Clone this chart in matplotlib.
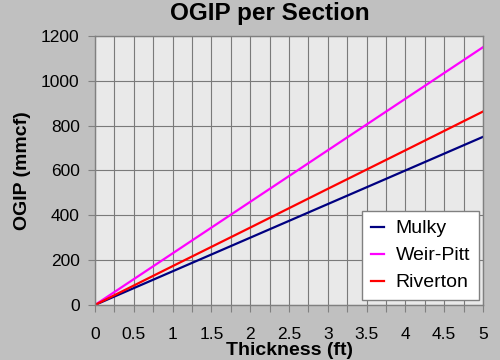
import matplotlib
matplotlib.use("Agg")
import matplotlib.pyplot as plt
from matplotlib.ticker import MultipleLocator

thickness = [0, 1, 2, 3, 4, 5]
mulky = [0, 150, 300, 450, 600, 750]
weir_pitt = [0, 230, 460, 690, 920, 1150]
riverton = [0, 173, 345, 518, 690, 863]

plt.rcParams['font.family'] = ['Liberation Sans', 'DejaVu Sans']

fig = plt.figure(figsize=(5, 3.6), dpi=100, facecolor='#C0C0C0')
ax = fig.add_axes([0.19, 0.153, 0.776, 0.747])
ax.set_facecolor('#E9E9E9')

ax.plot(thickness, mulky, color='#000080', lw=1.6, label='Mulky')
ax.plot(thickness, weir_pitt, color='#FF00FF', lw=1.6, label='Weir-Pitt')
ax.plot(thickness, riverton, color='#FF0000', lw=1.6, label='Riverton')

ax.set_xlim(0, 5)
ax.set_ylim(0, 1200)
ax.xaxis.set_major_locator(MultipleLocator(0.5))
ax.xaxis.set_minor_locator(MultipleLocator(0.25))
ax.yaxis.set_major_locator(MultipleLocator(200))
ax.set_xticklabels([f'{v:g}' for v in ax.get_xticks()])
ax.grid(True, which='both', axis='x', color='#7A7A7A', lw=0.8)
ax.grid(True, which='major', axis='y', color='#7A7A7A', lw=0.8)
ax.set_axisbelow(True)

for s in ax.spines.values():
    s.set_color('#808080')
    s.set_linewidth(1.0)

ax.tick_params(axis='both', which='both', colors='#808080', labelcolor='black',
               labelsize=12.5, length=5, width=0.8)
ax.tick_params(axis='x', which='major', pad=11)
ax.tick_params(axis='x', which='minor', length=5)
ax.tick_params(axis='y', pad=6)

fig.text(0.54, 0.963, 'OGIP per Section', fontsize=17.5, fontweight='bold',
         ha='center', va='center')
ax.set_xlabel('Thickness (ft)', fontsize=14, fontweight='bold', labelpad=0)
ax.set_ylabel('OGIP (mmcf)', fontsize=14, fontweight='bold', labelpad=7)

leg = ax.legend(loc='lower right', fontsize=14, frameon=True, fancybox=False,
                handlelength=0.7, handletextpad=0.6, borderpad=0.45,
                labelspacing=0.48, borderaxespad=0,
                bbox_to_anchor=(0.99, 0.018))
leg.get_frame().set_edgecolor('#808080')
leg.get_frame().set_facecolor('white')
leg.get_frame().set_alpha(1)

fig.savefig('out.png', dpi=100, facecolor=fig.get_facecolor())
